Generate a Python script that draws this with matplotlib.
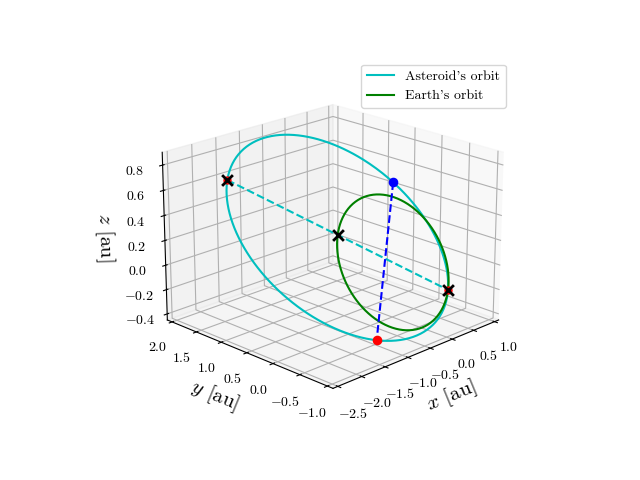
import numpy as np
import matplotlib
matplotlib.use("Agg")
import matplotlib.pyplot as plt

plt.rcParams['font.family'] = 'serif'
plt.rcParams['font.serif'] = ['cmr10']
plt.rcParams['mathtext.fontset'] = 'cm'
plt.rcParams['axes.formatter.use_mathtext'] = True

# orbit geometry
semi_major = 1.65
ecc = 0.5
aphelion_dir = np.array([-0.62, 0.75, 0.24])
minor_dir = np.array([0.72, 0.6, 0.338])
blue_E = np.radians(64.0)
red_E = np.radians(-65.0)
earth_tilt_dir = np.array([0.0, 0.4, 0.5])
earth_width = 0.55

perihelion_dir = -aphelion_dir / np.linalg.norm(aphelion_dir)
minor_dir = minor_dir - perihelion_dir * (minor_dir @ perihelion_dir)
minor_dir = minor_dir / np.linalg.norm(minor_dir)
b = semi_major * np.sqrt(1 - ecc**2)


def ellipse_point(E):
    E = np.atleast_1d(E)
    return (semi_major * (np.cos(E) - ecc))[:, None] * perihelion_dir + (b * np.sin(E))[:, None] * minor_dir


orbit = ellipse_point(np.linspace(0, 2 * np.pi, 400))
peri = ellipse_point(0.0)[0]
aph = ellipse_point(np.pi)[0]
centre = (peri + aph) / 2
blue = ellipse_point(blue_E)[0]
red = ellipse_point(red_E)[0]

# Earth's orbit drawn through the centre and perihelion crosses
g_centre = (centre + peri) / 2
u = (peri - centre) / 2
v = earth_tilt_dir - u * (earth_tilt_dir @ u) / (u @ u)
v = v / np.linalg.norm(v) * earth_width
t = np.linspace(0, 2 * np.pi, 400)
earth = g_centre + np.cos(t)[:, None] * u + np.sin(t)[:, None] * v

fig = plt.figure(figsize=(6.4, 4.8))
ax = fig.add_subplot(projection='3d')
ax.plot(orbit[:, 0], orbit[:, 1], orbit[:, 2], color='c', label="Asteroid's orbit")
ax.plot(earth[:, 0], earth[:, 1], earth[:, 2], color='g', label="Earth's orbit")
ax.plot([aph[0], peri[0]], [aph[1], peri[1]], [aph[2], peri[2]], 'c--')
ax.plot([blue[0], red[0]], [blue[1], red[1]], [blue[2], red[2]], 'b--')
ax.scatter([blue[0]], [blue[1]], [blue[2]], color='b', s=35, depthshade=False)
ax.scatter([red[0]], [red[1]], [red[2]], color='r', s=35, depthshade=False)
ax.scatter([aph[0], peri[0]], [aph[1], peri[1]], [aph[2], peri[2]], color='r', marker='o', s=25, depthshade=False)
ax.scatter([aph[0], peri[0], centre[0]], [aph[1], peri[1], centre[1]], [aph[2], peri[2], centre[2]],
           color='k', marker='x', s=60, linewidths=2, depthshade=False)
ax.set_xlabel(r'$x$ [au]', fontsize=15)
ax.set_ylabel(r'$y$ [au]', fontsize=15)
ax.set_zlabel(r'$z$ [au]', fontsize=15)
ax.set_xlim(-2.6, 1.1)
ax.set_ylim(-1.1, 2.1)
ax.set_zlim(-0.45, 0.9)
ax.view_init(elev=20, azim=-135)
ax.legend()
fig.savefig('out.png', dpi=100)
